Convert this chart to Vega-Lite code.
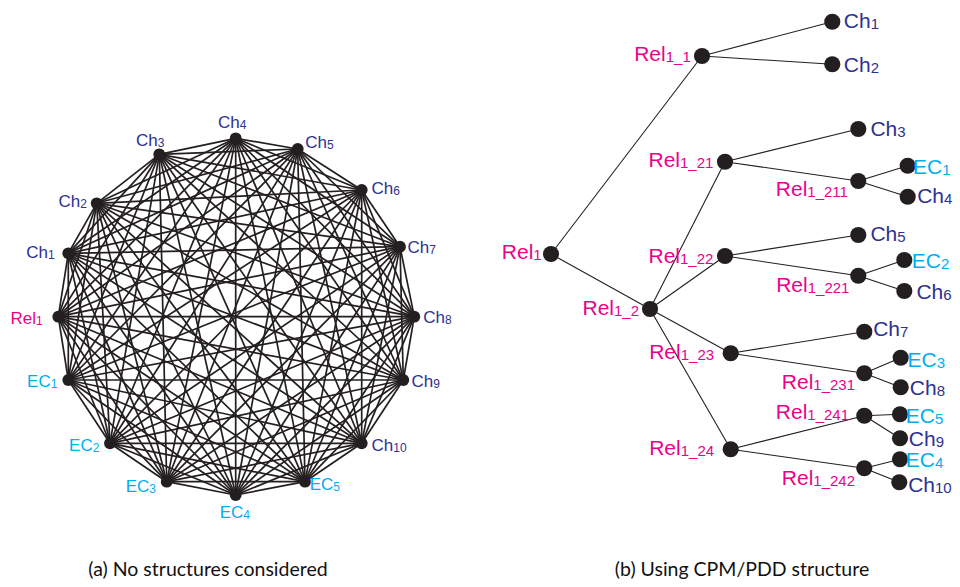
{
  "$schema": "https://vega.github.io/schema/vega-lite/v6.json",
  "width": 960,
  "height": 587,
  "autosize": {"type": "fit", "contains": "padding"},
  "padding": 0,
  "background": "white",
  "config": {"view": {"stroke": null}},
  "datasets": {
    "nodes": [
      {"key": "L.Ch4", "panel": "a", "x": 235.7, "y": 138.3, "main": "Ch", "sub": "4", "type": "Ch", "lx": 239.7, "ly": 128.3},
      {"key": "L.Ch5", "panel": "a", "x": 297.7, "y": 149, "main": "Ch", "sub": "5", "type": "Ch", "lx": 327, "ly": 148.3},
      {"key": "L.Ch6", "panel": "a", "x": 361.7, "y": 190, "main": "Ch", "sub": "6", "type": "Ch", "lx": 393.3, "ly": 194.3},
      {"key": "L.Ch7", "panel": "a", "x": 400, "y": 246.7, "main": "Ch", "sub": "7", "type": "Ch", "lx": 429.3, "ly": 253.3},
      {"key": "L.Ch8", "panel": "a", "x": 414.3, "y": 316.7, "main": "Ch", "sub": "8", "type": "Ch", "lx": 445, "ly": 323.3},
      {"key": "L.Ch9", "panel": "a", "x": 403.3, "y": 380, "main": "Ch", "sub": "9", "type": "Ch", "lx": 433.3, "ly": 387.3},
      {"key": "L.Ch10", "panel": "a", "x": 361.7, "y": 443.3, "main": "Ch", "sub": "10", "type": "Ch", "lx": 393.3, "ly": 450.7},
      {"key": "L.EC5", "panel": "a", "x": 305, "y": 481.7, "main": "EC", "sub": "5", "type": "EC", "lx": 333.3, "ly": 490},
      {"key": "L.EC4", "panel": "a", "x": 235.7, "y": 495, "main": "EC", "sub": "4", "type": "EC", "lx": 243.3, "ly": 517.7},
      {"key": "L.EC3", "panel": "a", "x": 166.7, "y": 481.7, "main": "EC", "sub": "3", "type": "EC", "lx": 149.3, "ly": 491.7},
      {"key": "L.EC2", "panel": "a", "x": 110, "y": 443.3, "main": "EC", "sub": "2", "type": "EC", "lx": 92.7, "ly": 451},
      {"key": "L.EC1", "panel": "a", "x": 68.3, "y": 380, "main": "EC", "sub": "1", "type": "EC", "lx": 50.7, "ly": 387.3},
      {"key": "L.Rel1", "panel": "a", "x": 58.3, "y": 316.7, "main": "Rel", "sub": "1", "type": "Rel", "lx": 36, "ly": 324},
      {"key": "L.Ch1", "panel": "a", "x": 68.3, "y": 253.3, "main": "Ch", "sub": "1", "type": "Ch", "lx": 48, "ly": 258.3},
      {"key": "L.Ch2", "panel": "a", "x": 96.7, "y": 203.3, "main": "Ch", "sub": "2", "type": "Ch", "lx": 80.3, "ly": 207.3},
      {"key": "L.Ch3", "panel": "a", "x": 159.3, "y": 154.3, "main": "Ch", "sub": "3", "type": "Ch", "lx": 157.7, "ly": 145.7},
      {"key": "R.Ch1", "panel": "b", "x": 832.3, "y": 21.7, "main": "Ch", "sub": "1", "type": "Ch", "lx": 870.7, "ly": 28.3},
      {"key": "R.Ch2", "panel": "b", "x": 832.3, "y": 64.3, "main": "Ch", "sub": "2", "type": "Ch", "lx": 870.7, "ly": 71.7},
      {"key": "R.Rel1_1", "panel": "b", "x": 702, "y": 56, "main": "Rel", "sub": "1_1", "type": "Rel", "lx": 665.7, "ly": 61},
      {"key": "R.Ch3", "panel": "b", "x": 858.3, "y": 129, "main": "Ch", "sub": "3", "type": "Ch", "lx": 897.3, "ly": 136},
      {"key": "R.Rel1_21", "panel": "b", "x": 725, "y": 161.7, "main": "Rel", "sub": "1_21", "type": "Rel", "lx": 680, "ly": 167.3},
      {"key": "R.EC1", "panel": "b", "x": 907.7, "y": 165.7, "main": "EC", "sub": "1", "type": "EC", "lx": 942.3, "ly": 174},
      {"key": "R.Rel1_211", "panel": "b", "x": 858.3, "y": 181, "main": "Rel", "sub": "1_211", "type": "Rel", "lx": 807.3, "ly": 196},
      {"key": "R.Ch4", "panel": "b", "x": 907.7, "y": 196.7, "main": "Ch", "sub": "4", "type": "Ch", "lx": 944, "ly": 203.3},
      {"key": "R.Rel1", "panel": "b", "x": 551, "y": 254, "main": "Rel", "sub": "1", "type": "Rel", "lx": 533.3, "ly": 259.3},
      {"key": "R.Ch5", "panel": "b", "x": 858.3, "y": 235, "main": "Ch", "sub": "5", "type": "Ch", "lx": 897.3, "ly": 241.3},
      {"key": "R.Rel1_22", "panel": "b", "x": 725, "y": 256, "main": "Rel", "sub": "1_22", "type": "Rel", "lx": 680, "ly": 263.3},
      {"key": "R.EC2", "panel": "b", "x": 904.3, "y": 260, "main": "EC", "sub": "2", "type": "EC", "lx": 941, "ly": 268.3},
      {"key": "R.Rel1_221", "panel": "b", "x": 858.3, "y": 275.7, "main": "Rel", "sub": "1_221", "type": "Rel", "lx": 807.7, "ly": 291.7},
      {"key": "R.Ch6", "panel": "b", "x": 904.3, "y": 291, "main": "Ch", "sub": "6", "type": "Ch", "lx": 943.3, "ly": 299.3},
      {"key": "R.Rel1_2", "panel": "b", "x": 650, "y": 309, "main": "Rel", "sub": "1_2", "type": "Rel", "lx": 614, "ly": 315},
      {"key": "R.Ch7", "panel": "b", "x": 864.3, "y": 331.7, "main": "Ch", "sub": "7", "type": "Ch", "lx": 900, "ly": 336},
      {"key": "R.Rel1_23", "panel": "b", "x": 730.7, "y": 353.3, "main": "Rel", "sub": "1_23", "type": "Rel", "lx": 680.7, "ly": 359},
      {"key": "R.EC3", "panel": "b", "x": 900.7, "y": 357.7, "main": "EC", "sub": "3", "type": "EC", "lx": 936.7, "ly": 366.7},
      {"key": "R.Rel1_231", "panel": "b", "x": 864.3, "y": 373.3, "main": "Rel", "sub": "1_231", "type": "Rel", "lx": 813.3, "ly": 389.3},
      {"key": "R.Ch8", "panel": "b", "x": 900.7, "y": 387.3, "main": "Ch", "sub": "8", "type": "Ch", "lx": 936.7, "ly": 395},
      {"key": "R.Rel1_241", "panel": "b", "x": 864.3, "y": 415.7, "main": "Rel", "sub": "1_241", "type": "Rel", "lx": 807.3, "ly": 419},
      {"key": "R.EC5", "panel": "b", "x": 900, "y": 414.3, "main": "EC", "sub": "5", "type": "EC", "lx": 935, "ly": 423.3},
      {"key": "R.Ch9", "panel": "b", "x": 900, "y": 438.3, "main": "Ch", "sub": "9", "type": "Ch", "lx": 935.7, "ly": 446},
      {"key": "R.Rel1_24", "panel": "b", "x": 730.7, "y": 449.3, "main": "Rel", "sub": "1_24", "type": "Rel", "lx": 680.7, "ly": 455},
      {"key": "R.EC4", "panel": "b", "x": 900, "y": 459.3, "main": "EC", "sub": "4", "type": "EC", "lx": 935, "ly": 466.7},
      {"key": "R.Rel1_242", "panel": "b", "x": 864.3, "y": 468.3, "main": "Rel", "sub": "1_242", "type": "Rel", "lx": 813.3, "ly": 485},
      {"key": "R.Ch10", "panel": "b", "x": 899.3, "y": 482.3, "main": "Ch", "sub": "10", "type": "Ch", "lx": 935, "ly": 491.7}
    ],
    "edges": [
      {"panel": "a", "s": "L.Ch4", "t": ["L.Ch5","L.Ch6","L.Ch7","L.Ch8","L.Ch9","L.Ch10","L.EC5","L.EC4","L.EC3","L.EC2","L.EC1","L.Rel1","L.Ch1","L.Ch2","L.Ch3"]},
      {"panel": "a", "s": "L.Ch5", "t": ["L.Ch6","L.Ch7","L.Ch8","L.Ch9","L.Ch10","L.EC5","L.EC4","L.EC3","L.EC2","L.EC1","L.Rel1","L.Ch1","L.Ch2","L.Ch3"]},
      {"panel": "a", "s": "L.Ch6", "t": ["L.Ch7","L.Ch8","L.Ch9","L.Ch10","L.EC5","L.EC4","L.EC3","L.EC2","L.EC1","L.Rel1","L.Ch1","L.Ch2","L.Ch3"]},
      {"panel": "a", "s": "L.Ch7", "t": ["L.Ch8","L.Ch9","L.Ch10","L.EC5","L.EC4","L.EC3","L.EC2","L.EC1","L.Rel1","L.Ch1","L.Ch2","L.Ch3"]},
      {"panel": "a", "s": "L.Ch8", "t": ["L.Ch9","L.Ch10","L.EC5","L.EC4","L.EC3","L.EC2","L.EC1","L.Rel1","L.Ch1","L.Ch2","L.Ch3"]},
      {"panel": "a", "s": "L.Ch9", "t": ["L.Ch10","L.EC5","L.EC4","L.EC3","L.EC2","L.EC1","L.Rel1","L.Ch1","L.Ch2","L.Ch3"]},
      {"panel": "a", "s": "L.Ch10", "t": ["L.EC5","L.EC4","L.EC3","L.EC2","L.EC1","L.Rel1","L.Ch1","L.Ch2","L.Ch3"]},
      {"panel": "a", "s": "L.EC5", "t": ["L.EC4","L.EC3","L.EC2","L.EC1","L.Rel1","L.Ch1","L.Ch2","L.Ch3"]},
      {"panel": "a", "s": "L.EC4", "t": ["L.EC3","L.EC2","L.EC1","L.Rel1","L.Ch1","L.Ch2","L.Ch3"]},
      {"panel": "a", "s": "L.EC3", "t": ["L.EC2","L.EC1","L.Rel1","L.Ch1","L.Ch2","L.Ch3"]},
      {"panel": "a", "s": "L.EC2", "t": ["L.EC1","L.Rel1","L.Ch1","L.Ch2","L.Ch3"]},
      {"panel": "a", "s": "L.EC1", "t": ["L.Rel1","L.Ch1","L.Ch2","L.Ch3"]},
      {"panel": "a", "s": "L.Rel1", "t": ["L.Ch1","L.Ch2","L.Ch3"]},
      {"panel": "a", "s": "L.Ch1", "t": ["L.Ch2","L.Ch3"]},
      {"panel": "a", "s": "L.Ch2", "t": ["L.Ch3"]},
      {"panel": "b", "s": "R.Rel1", "t": ["R.Rel1_1","R.Rel1_2"]},
      {"panel": "b", "s": "R.Rel1_1", "t": ["R.Ch1","R.Ch2"]},
      {"panel": "b", "s": "R.Rel1_2", "t": ["R.Rel1_21","R.Rel1_22","R.Rel1_23","R.Rel1_24"]},
      {"panel": "b", "s": "R.Rel1_21", "t": ["R.Ch3","R.Rel1_211"]},
      {"panel": "b", "s": "R.Rel1_211", "t": ["R.EC1","R.Ch4"]},
      {"panel": "b", "s": "R.Rel1_22", "t": ["R.Ch5","R.Rel1_221"]},
      {"panel": "b", "s": "R.Rel1_221", "t": ["R.EC2","R.Ch6"]},
      {"panel": "b", "s": "R.Rel1_23", "t": ["R.Ch7","R.Rel1_231"]},
      {"panel": "b", "s": "R.Rel1_231", "t": ["R.EC3","R.Ch8"]},
      {"panel": "b", "s": "R.Rel1_24", "t": ["R.Rel1_241","R.Rel1_242"]},
      {"panel": "b", "s": "R.Rel1_241", "t": ["R.EC5","R.Ch9"]},
      {"panel": "b", "s": "R.Rel1_242", "t": ["R.EC4","R.Ch10"]}
    ],
    "captions": [
      {"caption": "(a)  No structures considered", "x": 208, "y": 570},
      {"caption": "(b)  Using CPM/PDD structure", "x": 742, "y": 570}
    ]
  },
  "resolve": {"scale": {"size": "independent", "strokeWidth": "independent"}},
  "layer": [
    {
      "data": {"name": "edges"},
      "transform": [
        {"flatten": ["t"]},
        {"lookup": "s", "from": {"data": {"name": "nodes"}, "key": "key", "fields": ["x", "y"]}, "as": ["x1", "y1"]},
        {"lookup": "t", "from": {"data": {"name": "nodes"}, "key": "key", "fields": ["x", "y"]}, "as": ["x2", "y2"]}
      ],
      "mark": {"type": "rule", "color": "#231f20"},
      "encoding": {
        "x": {"field": "x1", "type": "quantitative", "scale": {"domain": [0, 960], "nice": false, "zero": false}, "axis": null},
        "y": {"field": "y1", "type": "quantitative", "scale": {"domain": [0, 587], "nice": false, "zero": false, "reverse": true}, "axis": null},
        "x2": {"field": "x2"},
        "y2": {"field": "y2"},
        "strokeWidth": {"field": "panel", "type": "nominal", "scale": {"domain": ["a", "b"], "range": [1.7, 1.1]}, "legend": null}
      }
    },
    {
      "data": {"name": "nodes"},
      "mark": {"type": "point", "filled": true, "opacity": 1, "color": "#231f20", "strokeWidth": 0},
      "encoding": {
        "x": {"field": "x", "type": "quantitative"},
        "y": {"field": "y", "type": "quantitative"},
        "size": {"field": "panel", "type": "nominal", "scale": {"domain": ["a", "b"], "range": [140, 260]}, "legend": null}
      }
    },
    {
      "data": {"name": "nodes"},
      "mark": {"type": "text", "align": "right", "baseline": "alphabetic", "font": "Liberation Sans"},
      "encoding": {
        "x": {"field": "lx", "type": "quantitative"},
        "y": {"field": "ly", "type": "quantitative"},
        "text": {"field": "main"},
        "color": {"field": "type", "type": "nominal", "scale": {"domain": ["Ch", "EC", "Rel"], "range": ["#2e3192", "#00aeef", "#ec008c"]}, "legend": null},
        "size": {"field": "panel", "type": "nominal", "scale": {"domain": ["a", "b"], "range": [17, 21]}, "legend": null}
      }
    },
    {
      "data": {"name": "nodes"},
      "mark": {"type": "text", "align": "left", "baseline": "alphabetic", "font": "Liberation Sans", "dy": 1},
      "encoding": {
        "x": {"field": "lx", "type": "quantitative"},
        "y": {"field": "ly", "type": "quantitative"},
        "text": {"field": "sub"},
        "color": {"field": "type", "type": "nominal", "scale": {"domain": ["Ch", "EC", "Rel"], "range": ["#2e3192", "#00aeef", "#ec008c"]}, "legend": null},
        "size": {"field": "panel", "type": "nominal", "scale": {"domain": ["a", "b"], "range": [12, 15]}, "legend": null}
      }
    },
    {
      "data": {"name": "captions"},
      "mark": {"type": "text", "align": "center", "baseline": "middle", "font": "Lato", "fontSize": 19.5, "color": "#111111"},
      "encoding": {
        "x": {"field": "x", "type": "quantitative"},
        "y": {"field": "y", "type": "quantitative"},
        "text": {"field": "caption"}
      }
    }
  ]
}
